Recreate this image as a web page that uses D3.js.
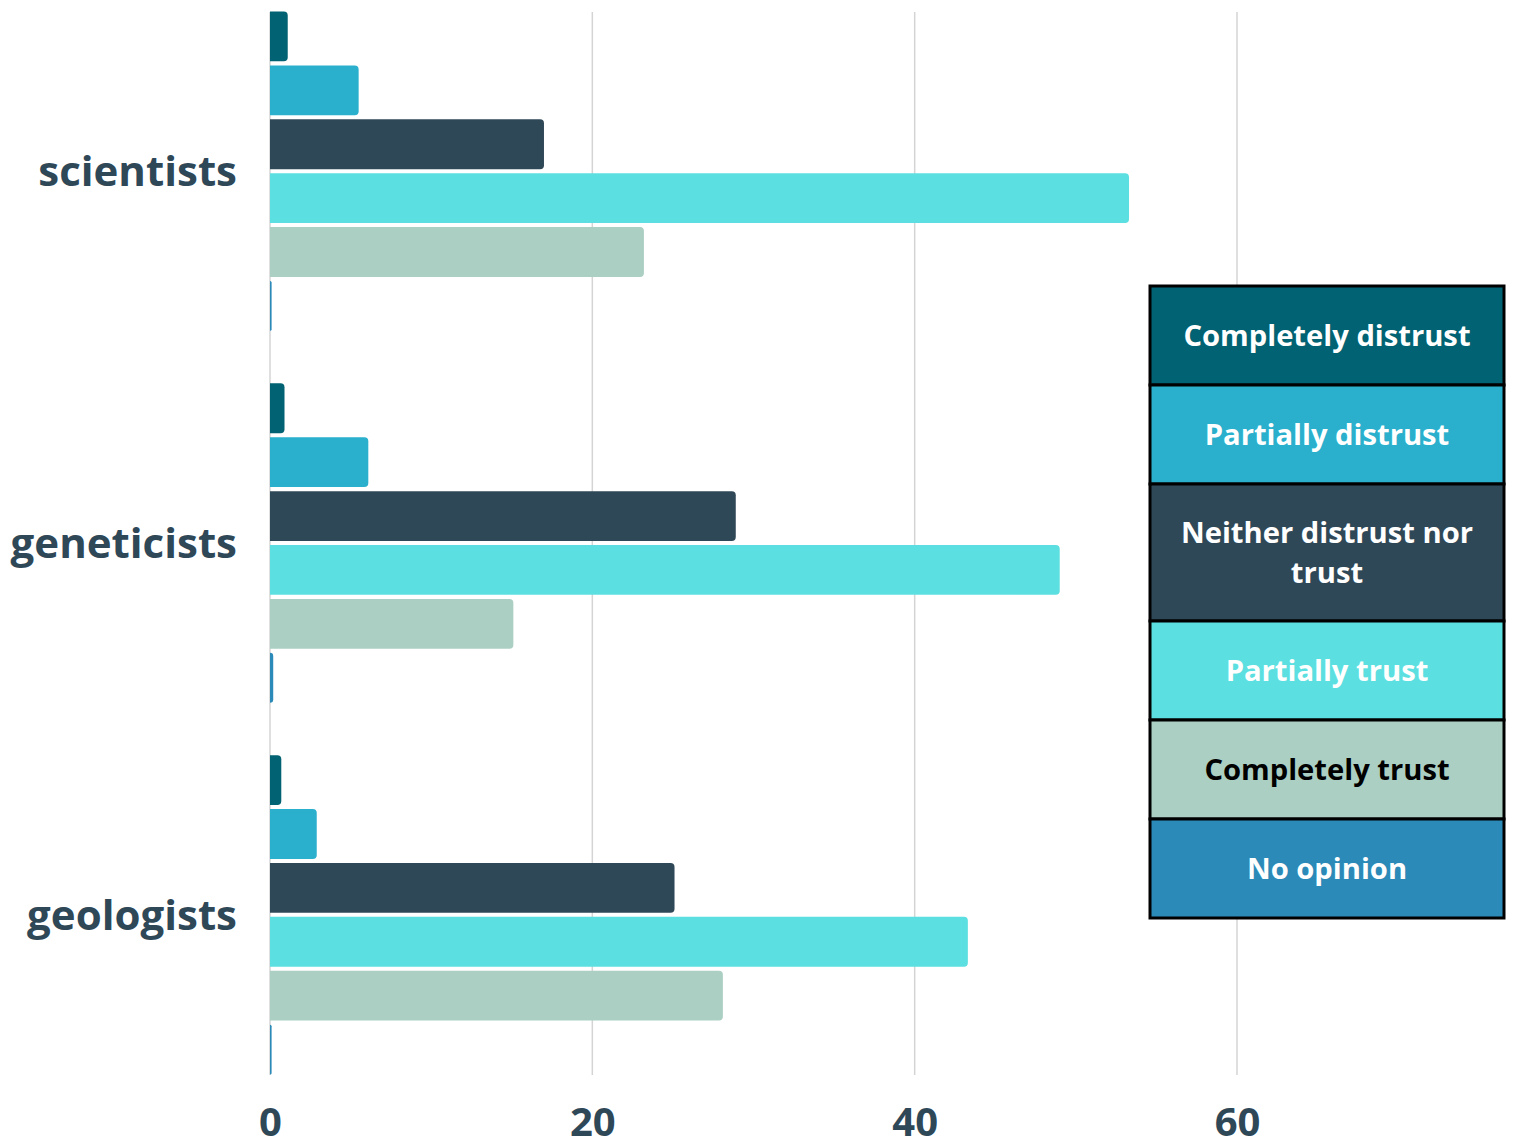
<!DOCTYPE html>
<html>
<head>
<meta charset="utf-8">
<script src="https://cdn.jsdelivr.net/npm/d3@7"></script>
<style>
  html, body { margin: 0; padding: 0; background: #ffffff; }
  svg { display: block; font-family: "Open Sans", sans-serif; }
</style>
</head>
<body>
<svg id="chart" width="1514" height="1140"></svg>
<script>
// Survey: how much people trust each group of researchers (percent of respondents)
const categories = ["scientists", "geneticists", "geologists"];
const seriesNames = ["Completely distrust", "Partially distrust", "Neither distrust nor trust",
                     "Partially trust", "Completely trust", "No opinion"];
const seriesColors = ["#006272", "#2ab0cd", "#2f4858", "#5cdfe0", "#abcfc3", "#2b8ab8"];
const legendTextColors = ["#ffffff", "#ffffff", "#ffffff", "#ffffff", "#000000", "#ffffff"];
const completelyDistrust = [1.1, 0.9, 0.7];
const partiallyDistrust  = [5.5, 6.1, 2.9];
const neitherNor         = [17.0, 28.9, 25.1];
const partiallyTrust     = [53.3, 49.0, 43.3];
const completelyTrust    = [23.2, 15.1, 28.1];
const noOpinion          = [0.1, 0.2, 0.1];
const xTicks = [0, 20, 40, 60];

const seriesValues = [completelyDistrust, partiallyDistrust, neitherNor,
                      partiallyTrust, completelyTrust, noOpinion];

const svg = d3.select("#chart");
const textColor = "#2f4858";

const x = d3.scaleLinear().domain([0, 60]).range([270, 1237]);
const y0 = d3.scaleBand().domain(categories).range([12, 1075]).paddingInner(0.1413).paddingOuter(0);
const y1 = d3.scaleBand().domain(d3.range(seriesNames.length)).range([0, y0.bandwidth()])
  .paddingInner(0.075).paddingOuter(0);

// vertical gridlines
svg.append("g").selectAll("line").data(xTicks).join("line")
  .attr("x1", d => x(d)).attr("x2", d => x(d))
  .attr("y1", 12).attr("y2", 1075)
  .attr("stroke", "#d4d4d4").attr("stroke-width", 1.5);

// x axis tick labels
const xAxis = d3.axisBottom(x).tickValues(xTicks).tickSize(0).tickPadding(0);
const gx = svg.append("g").attr("transform", "translate(0,1136)").call(xAxis);
gx.select(".domain").remove();
gx.selectAll("text")
  .attr("dy", 0).attr("y", 0)
  .attr("font-family", "'Open Sans', sans-serif")
  .attr("font-weight", 700).attr("font-size", 40)
  .attr("fill", textColor);

// category labels
const yAxis = d3.axisLeft(y0).tickSize(0).tickPadding(0);
const gy = svg.append("g").attr("transform", "translate(237,0)").call(yAxis);
gy.select(".domain").remove();
gy.selectAll("text")
  .attr("x", 0).attr("dy", "0.35em")
  .attr("font-family", "'Open Sans', sans-serif")
  .attr("font-weight", 700).attr("font-size", 42)
  .attr("fill", textColor);

// bar shape: square at the baseline, rounded at the value end
function barPath(x0, x1, yTop, h, r) {
  const w = Math.max(0, x1 - x0);
  const rr = Math.min(r, w, h / 2);
  return `M${x0},${yTop}H${x0 + w - rr}Q${x0 + w},${yTop} ${x0 + w},${yTop + rr}` +
         `V${yTop + h - rr}Q${x0 + w},${yTop + h} ${x0 + w - rr},${yTop + h}H${x0}Z`;
}

const rows = [];
categories.forEach((c, ci) => {
  seriesValues.forEach((vals, si) => rows.push({ c, si, v: vals[ci] }));
});

svg.append("g").selectAll("path").data(rows).join("path")
  .attr("d", d => barPath(x(0), x(d.v), y0(d.c) + y1(d.si) - 0.5, y1.bandwidth(), 4))
  .attr("fill", d => seriesColors[d.si]);

// legend
const legendX = 1150, legendW = 354;
const legendRowH = [99, 99, 137, 99, 99, 99];
const legendLines = [["Completely distrust"], ["Partially distrust"], ["Neither distrust nor", "trust"],
                     ["Partially trust"], ["Completely trust"], ["No opinion"]];
let ly = 286;
const legendRows = legendRowH.map((h, i) => { const r = { i, y: ly, h }; ly += h; return r; });

const lg = svg.append("g");
lg.selectAll("rect").data(legendRows).join("rect")
  .attr("x", legendX).attr("y", d => d.y)
  .attr("width", legendW).attr("height", d => d.h)
  .attr("fill", d => seriesColors[d.i])
  .attr("stroke", "#000").attr("stroke-width", 3);

const cx = legendX + legendW / 2;
lg.selectAll("text").data(legendRows).join("text")
  .attr("x", cx)
  .attr("y", d => d.y + d.h / 2)
  .attr("text-anchor", "middle")
  .attr("font-family", "'Open Sans', sans-serif")
  .attr("font-weight", 700).attr("font-size", 29.2)
  .attr("fill", d => legendTextColors[d.i])
  .each(function (d) {
    const lines = legendLines[d.i];
    const lh = 40;
    const start = -(lines.length - 1) * lh / 2;
    d3.select(this).selectAll("tspan").data(lines).join("tspan")
      .attr("x", cx)
      .attr("dy", (t, k) => k === 0 ? start + 10.5 : lh)
      .text(t => t);
  });
</script>
</body>
</html>
